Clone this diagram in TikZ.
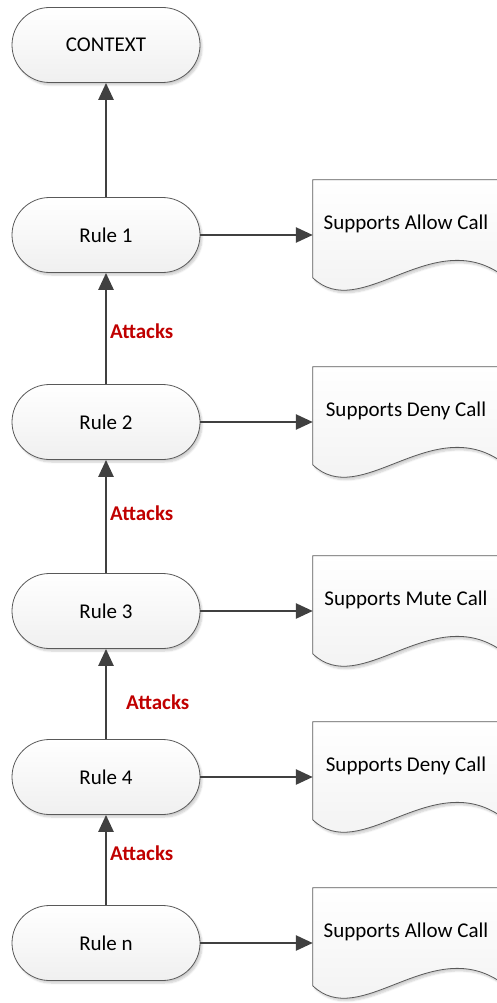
\documentclass[tikz,border=0pt]{standalone}
\usepackage{fontspec}
\setmainfont{Carlito}
\usetikzlibrary{arrows.meta,shadows.blur,calc}
\definecolor{linegray}{HTML}{404040}
\definecolor{edgegray}{HTML}{595959}
\definecolor{attackred}{HTML}{C00000}

\tikzset{
  softshadow/.style={blur shadow={shadow xshift=2pt, shadow yshift=-2.5pt,
      shadow blur steps=6, shadow opacity=20}},
  rulebox/.style={draw=edgegray, line width=0.8pt, rounded corners=37.5pt,
      minimum width=188pt, minimum height=75pt, inner sep=0pt,
      top color=white, bottom color=black!6, softshadow,
      font=\fontsize{21}{24}\selectfont},
  docarea/.style={draw=none, minimum width=186pt, minimum height=110pt, inner sep=0pt},
  docfill/.style={draw=edgegray, line width=0.8pt,
      top color=white, bottom color=black!6, softshadow},
  doctext/.style={inner sep=0pt, font=\fontsize{21}{24}\selectfont},
  attack/.style={inner sep=0pt, text=attackred, font=\bfseries\fontsize{21}{24}\selectfont},
  conn/.style={draw=linegray, line width=2.6pt,
      -{Triangle[length=17pt,width=15pt]}},
}

% document symbol with a wavy lower edge, hung from the top of a doc area
\newcommand\docoutline[1]{%
  \begin{scope}[shift={(#1.north west)}]
    \path[docfill] (0,0) -- (186,0) -- (186,93)
      .. controls (117,48) and (47,143) .. (0,98) -- cycle;
  \end{scope}}

\begin{document}
\begin{tikzpicture}[x=1pt,y=-1pt]
\useasboundingbox (0,0) rectangle (496,1003);

% rule chain
\node[rulebox] (ctx) at (106,45)  {CONTEXT};
\node[rulebox] (r1)  at (106,235) {Rule 1};
\node[rulebox] (r2)  at (106,422) {Rule 2};
\node[rulebox] (r3)  at (106,611) {Rule 3};
\node[rulebox] (r4)  at (106,777) {Rule 4};
\node[rulebox] (rn)  at (106,943) {Rule n};

% supported decisions
\node[docarea] (d1) at (406,235) {};
\node[docarea] (d2) at (406,422) {};
\node[docarea] (d3) at (406,611) {};
\node[docarea] (d4) at (406,777) {};
\node[docarea] (dn) at (406,943) {};
\docoutline{d1}
\docoutline{d2}
\docoutline{d3}
\docoutline{d4}
\docoutline{dn}
\node[doctext, anchor=base] (t1) at ([yshift=6pt]d1.center) {Supports Allow Call};
\node[doctext, anchor=base] (t2) at ([yshift=6pt]d2.center) {Supports Deny Call};
\node[doctext, anchor=base] (t3) at ([yshift=6pt]d3.center) {Supports Mute Call};
\node[doctext, anchor=base] (t4) at ([yshift=6pt]d4.center) {Supports Deny Call};
\node[doctext, anchor=base] (tn) at ([yshift=6pt]dn.center) {Supports Allow Call};

% attack relations
\draw[conn] (r1.north) -- (ctx.south);
\draw[conn] (r2.north) -- (r1.south);
\draw[conn] (r3.north) -- (r2.south);
\draw[conn] (r4.north) -- (r3.south);
\draw[conn] (rn.north) -- (r4.south);

\node[attack, anchor=base west] (a1) at (110,338) {Attacks};
\node[attack, anchor=base west] (a2) at (110,520) {Attacks};
\node[attack, anchor=base west] (a3) at (126,709) {Attacks};
\node[attack, anchor=base west] (a4) at (110,860) {Attacks};

% support relations
\draw[conn] (r1.east) -- (d1.west);
\draw[conn] (r2.east) -- (d2.west);
\draw[conn] (r3.east) -- (d3.west);
\draw[conn] (r4.east) -- (d4.west);
\draw[conn] (rn.east) -- (dn.west);
\end{tikzpicture}
\end{document}
